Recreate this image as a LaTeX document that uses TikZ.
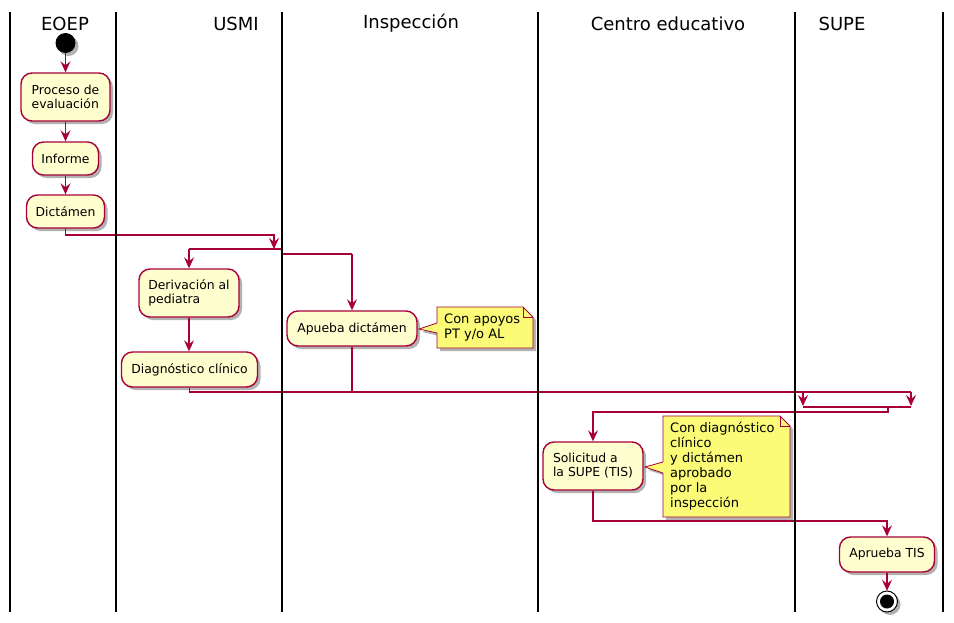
\documentclass[tikz,border=0pt]{standalone}
\usepackage{fontspec}
\setmainfont{DejaVu Sans}
\usetikzlibrary{arrows.meta,shadows,positioning}
\definecolor{actfill}{HTML}{FEFECE}
\definecolor{actborder}{HTML}{A80036}
\definecolor{notefill}{HTML}{FBFB77}
\tikzset{
  shd/.style={drop shadow={shadow xshift=3pt,shadow yshift=-3pt,opacity=0.3,fill=black}},
  act/.style={draw=actborder,fill=actfill,line width=1.4pt,rounded corners=11pt,shd,
    inner sep=0pt,align=left,font=\fontsize{12.4}{14}\selectfont},
  conn/.style={draw=actborder,line width=1.2pt},
  arr/.style={conn,-{Stealth[length=11pt,width=10pt,inset=4pt]}},
  lane/.style={draw=black,line width=1.6pt},
  hdr/.style={font=\fontsize{18}{21}\selectfont,inner sep=0pt},
  notetxt/.style={font=\fontsize{13}{15}\selectfont,inner sep=0pt,anchor=north west,align=left},
  notebox/.style={draw=actborder,fill=notefill,line width=0.8pt,shd,line join=miter}
}
\begin{document}
\begin{tikzpicture}[x=1pt,y=-1pt]
\useasboundingbox (0,0) rectangle (954,622);
% headers
\node[hdr] (hEOEP) at (65,23.5) {EOEP};
\node[hdr] (hUSMI) at (236,23.5) {USMI};
\node[hdr] (hINS) at (411,23.5) {Inspección};
\node[hdr] (hCE) at (668,23.5) {Centro educativo};
\node[hdr] (hSUPE) at (842,23.5) {SUPE};
% start
\fill[black,shd] (65.5,43) circle (10);
\node[inner sep=0pt,minimum size=20pt,circle] (start) at (65.5,43) {};
% activities
\node[act,minimum width=89pt,minimum height=48pt] (proc) at (65.5,97) {Proceso de\\evaluación};
\node[act,minimum width=66pt,minimum height=33pt] (inf) at (65.5,158.5) {Informe};
\node[act,minimum width=78pt,minimum height=33pt] (dict) at (65.5,211.5) {Dictámen};
\node[act,minimum width=100pt,minimum height=48pt] (deriv) at (189,293) {Derivación al\\pediatra};
\node[act,minimum width=136pt,minimum height=35pt] (diag) at (189.5,369.5) {Diagnóstico clínico};
\node[act,minimum width=130pt,minimum height=35pt] (apr) at (352,328.5) {Apueba dictámen};
\node[act,minimum width=100pt,minimum height=48pt] (sol) at (593,466) {Solicitud a\\la SUPE (TIS)};
\node[act,minimum width=95pt,minimum height=35pt] (tis) at (887,554.5) {Aprueba TIS};
% end
\fill[white,shd] (887,601.5) circle (10.5);
\draw[black,line width=1pt] (887,601.5) circle (10.5);
\fill[black] (887,601.5) circle (7);
\node[inner sep=0pt,minimum size=21pt,circle] (end) at (887,601.5) {};
% notes
\path[notebox] (437,307) -- (523,307) -- (533,317) -- (533,348) -- (437,348) -- (437,333) -- (419,329) -- (437,323) -- cycle;
\draw[actborder,line width=0.8pt] (523,307) -- (523,317) -- (533,317);
\node[notetxt] (note1) at (444,314) {Con apoyos\\PT y/o AL};
\path[notebox] (663,416) -- (780,416) -- (790,426) -- (790,517) -- (663,517) -- (663,473) -- (645,467) -- (663,462) -- cycle;
\draw[actborder,line width=0.8pt] (780,416) -- (780,426) -- (790,426);
\node[notetxt] (note2) at (670,422) {Con diagnóstico\\clínico\\y dictámen\\aprobado\\por la\\inspección};
% coordinates
\coordinate (j1) at (274,249);
\coordinate (f1) at (189,249);
\coordinate (f2) at (352,254);
\coordinate (m1) at (803,406);
\coordinate (m2) at (911,406);
\coordinate (s1) at (593,412);
% connectors
\draw[arr] (start) -- (proc);
\draw[arr] (proc) -- (inf);
\draw[arr] (inf) -- (dict);
\draw[arr] (dict.south) |- (66,235) -| (j1);
\draw[conn] (f1) -- (282,249) -- (282,254) -- (f2);
\draw[arr] (f1) -- (deriv.north);
\draw[arr] (f2) -- (apr.north);
\draw[arr] (deriv.south) -- (deriv.south |- diag.north);
\draw[conn] (diag.south) |- (911,392);
\draw[conn] (apr.south) -- (352,392);
\draw[arr] (803,392) -- (m1);
\draw[arr] (911,392) -- (m2);
\draw[conn] (803,407) -- (911,407);
\draw[arr] (888,407) -- (888,412) -| (sol.north);
\draw[arr] (sol.south) |- (887,521) -- (tis.north);
\draw[arr] (tis) -- (end);
% lanes
\foreach \x/\n in {10/a,116/b,282/c,538/d,795/e,943/f}{
  \draw[lane] (\x,12) -- (\x,612);
}
\end{tikzpicture}
\end{document}
